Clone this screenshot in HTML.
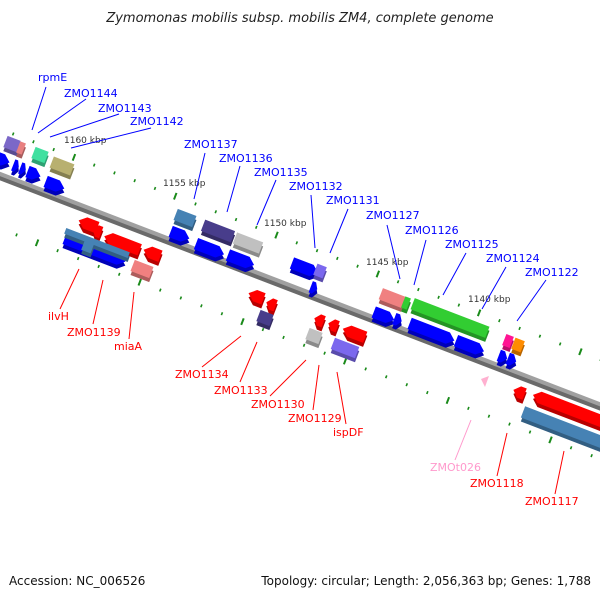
<!DOCTYPE html>
<html><head><meta charset="utf-8"><style>
body{margin:0;background:#fff}
svg{display:block}
text{font-family:"DejaVu Sans","Liberation Sans",sans-serif}
.b{fill:#0000ff;font-size:11px}
.r{fill:#ff0000;font-size:11px}
.k{fill:#333;font-size:9px}
</style></head><body>
<svg id="s" width="600" height="600" viewBox="0 0 600 600" xmlns="http://www.w3.org/2000/svg">
<rect width="600" height="600" fill="#fff"/>
<text x="300" y="22" text-anchor="middle" font-size="13" font-style="italic" fill="#222">Zymomonas mobilis subsp. mobilis ZM4, complete genome</text>
<g id="ticks"></g>
<g transform="translate(0,175) rotate(21)">
<rect x="-20" y="-1" width="720" height="6" fill="#6a6a6a"/>
<rect x="-20" y="-3" width="720" height="4" fill="#a0a0a0"/>
</g>
<g id="genes"></g>
<polygon points="481,379 489,376 485,387" fill="#ffb0d0"/>
<text class="k" x="64" y="143">1160 kbp</text>
<text class="k" x="163" y="186">1155 kbp</text>
<text class="k" x="264" y="226">1150 kbp</text>
<text class="k" x="366" y="265">1145 kbp</text>
<text class="k" x="468" y="302">1140 kbp</text>
<g stroke="#0000ff" stroke-width="1">
<line x1="46" y1="87" x2="32" y2="130"/>
<line x1="86" y1="99" x2="38" y2="133"/>
<line x1="119" y1="114" x2="50" y2="137"/>
<line x1="151" y1="128" x2="71" y2="148"/>
<line x1="205" y1="153" x2="194" y2="199"/>
<line x1="240" y1="166" x2="227" y2="212"/>
<line x1="276" y1="180" x2="257" y2="225"/>
<line x1="311" y1="195" x2="315" y2="248"/>
<line x1="348" y1="209" x2="330" y2="253"/>
<line x1="387" y1="225" x2="400" y2="279"/>
<line x1="426" y1="240" x2="414" y2="285"/>
<line x1="466" y1="253" x2="443" y2="295"/>
<line x1="506" y1="267" x2="482" y2="309"/>
<line x1="546" y1="280" x2="517" y2="321"/>
</g>
<text class="b" x="38" y="81">rpmE</text>
<text class="b" x="64" y="97">ZMO1144</text>
<text class="b" x="98" y="112">ZMO1143</text>
<text class="b" x="130" y="125">ZMO1142</text>
<text class="b" x="184" y="148">ZMO1137</text>
<text class="b" x="219" y="162">ZMO1136</text>
<text class="b" x="254" y="176">ZMO1135</text>
<text class="b" x="289" y="190">ZMO1132</text>
<text class="b" x="326" y="204">ZMO1131</text>
<text class="b" x="366" y="219">ZMO1127</text>
<text class="b" x="405" y="234">ZMO1126</text>
<text class="b" x="445" y="248">ZMO1125</text>
<text class="b" x="486" y="262">ZMO1124</text>
<text class="b" x="525" y="276">ZMO1122</text>
<g stroke="#ff0000" stroke-width="1">
<line x1="79" y1="269" x2="60" y2="309"/>
<line x1="103" y1="280" x2="93" y2="324"/>
<line x1="134" y1="292" x2="129" y2="339"/>
<line x1="241" y1="336" x2="202" y2="367"/>
<line x1="257" y1="342" x2="240" y2="382"/>
<line x1="306" y1="360" x2="270" y2="396"/>
<line x1="319" y1="365" x2="313" y2="410"/>
<line x1="337" y1="372" x2="346" y2="424"/>
<line x1="507" y1="433" x2="497" y2="476"/>
<line x1="564" y1="451" x2="555" y2="494"/>
</g>
<line x1="471" y1="420" x2="455" y2="460" stroke="#ff99cc"/>
<text class="r" x="48" y="320">ilvH</text>
<text class="r" x="67" y="336">ZMO1139</text>
<text class="r" x="114" y="350">miaA</text>
<text class="r" x="175" y="378">ZMO1134</text>
<text class="r" x="214" y="394">ZMO1133</text>
<text class="r" x="251" y="408">ZMO1130</text>
<text class="r" x="288" y="422">ZMO1129</text>
<text class="r" x="333" y="436">ispDF</text>
<text x="430" y="471" font-size="11" fill="#ff99cc">ZMOt026</text>
<text class="r" x="470" y="487">ZMO1118</text>
<text class="r" x="525" y="505">ZMO1117</text>
<text x="9" y="585" font-size="12" fill="#111">Accession: NC_006526</text>
<text x="591" y="585" font-size="12" fill="#111" text-anchor="end">Topology: circular; Length: 2,056,363 bp; Genes: 1,788</text>
</svg>
<script>
var NS="http://www.w3.org/2000/svg";
var T=document.getElementById("ticks"),G=document.getElementById("genes");
var c=Math.cos(21*Math.PI/180),s=Math.sin(21*Math.PI/180);
function pt(u,v){return [u*c-v*s, 175+u*s+v*c];}
function tick(u,v,L){var a=pt(u,v-L/2),b=pt(u,v+L/2);var l=document.createElementNS(NS,"line");
l.setAttribute("x1",a[0]);l.setAttribute("y1",a[1]);l.setAttribute("x2",b[0]);l.setAttribute("y2",b[1]);
l.setAttribute("stroke","#1a8a1a");l.setAttribute("stroke-width",L>4?2:1.6);T.appendChild(l);}
for(var k=-4;k<35;k++){tick(62.7+21.7*k,-43,k%5==0?7:3);tick(58.9+22*k,50,k%5==0?7:3);}
function shape(cx,cy,L,col,t,h){h=h||12;var p;var a=L/2,e=Math.min(7,L/2);
if(t=="r")p=[[-a,-h/2],[a-e,-h/2],[a,0],[a-e,h/2],[-a,h/2]];
else if(t=="l")p=[[a,-h/2],[-a+e,-h/2],[-a,0],[-a+e,h/2],[a,h/2]];
else p=[[-a,-h/2],[a,-h/2],[a,h/2],[-a,h/2]];
var str=p.map(function(q){return q.join(",")}).join(" ");
var g=document.createElementNS(NS,"g");g.setAttribute("transform","translate("+cx+","+cy+")");
var d=document.createElementNS(NS,"polygon");d.setAttribute("points",str);d.setAttribute("fill",col);
d.setAttribute("transform","translate(0,4) rotate(21)");d.setAttribute("style","filter:brightness(0.72)");
var m=document.createElementNS(NS,"polygon");m.setAttribute("points",str);m.setAttribute("fill",col);
m.setAttribute("transform","rotate(21)");g.appendChild(d);g.appendChild(m);G.appendChild(g);}
var B="#0000ff",R="#ff0000";
[[3,160,14],[16,166,6],[23,169,6],[34,174,14],[55,185,20],[180,235,20],[210,249,30],[241,260,28],[305,268,28],[314,288,7],[384,316,22],[398,320,8],[432,332,48],[470,346,30],[503,357,9],[512,360,9],[95,250,65]].forEach(function(q){shape(q[0],q[1],q[2],B,"r");});
[[88,224,20],[97,231,9],[122,243,38],[152,253,18],[256,296,16],[271,304,10],[319,320,10],[333,325,10],[354,333,24],[519,392,12],[575,411,90]].forEach(function(q){shape(q[0],q[1],q[2],R,"l");});
[[12,144,14,"#7b68c8"],[21,148,6,"#e88080"],[40,155,14,"#40e0a0"],[62,166,22,"#b8b070"],[185,218,20,"#4682b4"],[218,231,32,"#483d8b"],[248,243,28,"#c0c0c0"],[320,271,10,"#7b68ee"],[392,298,24,"#f08080"],[406,303,6,"#32cd32"],[450,318,80,"#32cd32"],[508,341,8,"#ff1493"],[518,345,10,"#ff8c00"],[142,269,20,"#f08080"],[265,318,14,"#483d8b"],[314,336,14,"#c0c0c0"],[345,348,26,"#7b68ee"],[565,428,90,"#4682b4"]].forEach(function(q){shape(q[0],q[1],q[2],q[3],"b");});
shape(97,243,68,"#4682b4","b",6);shape(88,246,10,"#4682b4","b");
</script>
</body></html>
